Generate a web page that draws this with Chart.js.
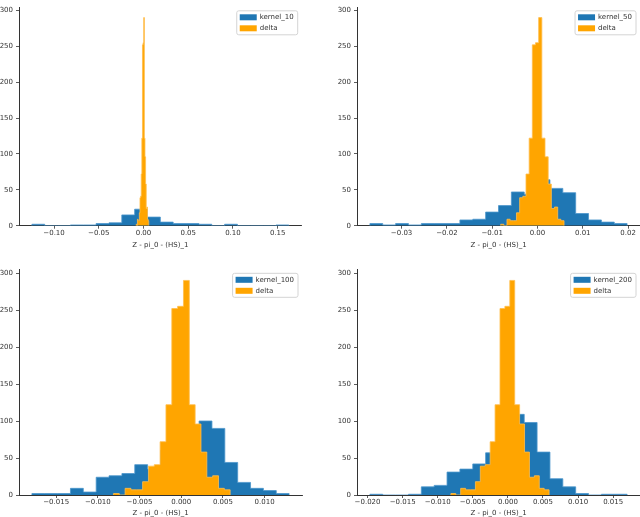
<!DOCTYPE html>
<html>
<head>
<meta charset="utf-8">
<script src="https://cdn.jsdelivr.net/npm/chart.js@4.4.1/dist/chart.umd.min.js"></script>
<style>
  html, body { margin: 0; padding: 0; background: #fff; }
  #fig { position: relative; width: 640px; height: 517px; overflow: hidden; }
  #fig canvas { position: absolute; }
</style>
</head>
<body>
<div id="fig">
  <canvas id="k10" width="320" height="258" style="left:0;top:0"></canvas>
  <canvas id="k50" width="320" height="258" style="left:320px;top:0"></canvas>
  <canvas id="k100" width="320" height="259" style="left:0;top:258px"></canvas>
  <canvas id="k200" width="320" height="259" style="left:320px;top:258px"></canvas>
</div>
<script>
// histogram data: each series is a first bin edge,
// a bin width and 20 counts
const deltaStart = -0.00813;
const deltaWidth = 0.0007;
const deltaCounts = [2, 0, 9, 7, 7, 18, 39, 41, 72, 122, 252, 255, 290, 122, 96, 58, 24, 26, 9, 7];

const k10Start = -0.1248;
const k10Width = 0.014365;
const k10Counts = [2, 0, 0, 1, 1, 3, 4, 15, 23, 12, 5, 3, 3, 2, 0, 2, 0, 0, 0, 1];

const k50Start = -0.0370;
const k50Width = 0.00284;
const k50Counts = [3, 1, 3, 1, 3, 3, 3, 8, 9, 19, 28, 47, 44, 64, 52, 46, 17, 8, 5, 3];

const k100Start = -0.01791;
const k100Width = 0.0015425;
const k100Counts = [2, 2, 2, 9, 4, 24, 26, 29, 41, 35, 60, 80, 90, 100, 90, 44, 17, 9, 6, 2];

const k200Start = -0.01967;
const k200Width = 0.001833;
const k200Counts = [1, 0, 0, 1, 11, 13, 31, 35, 42, 57, 85, 109, 98, 58, 22, 11, 2, 0, 1, 1];

// tick labels
const yTicks = [0, 50, 100, 150, 200, 250, 300];
const k10Ticks = [-0.10, -0.05, 0, 0.05, 0.10, 0.15];
const k50Ticks = [-0.03, -0.02, -0.01, 0, 0.01, 0.02];
const k100Ticks = [-0.015, -0.010, -0.005, 0, 0.005, 0.010];
const k200Ticks = [-0.020, -0.015, -0.010, -0.005, 0, 0.005, 0.010, 0.015];
const xTitle = 'Z - pi_0 - (HS)_1';

const blue = '#1f77b4';
const orange = '#ffa500';
const axisColor = '#333';

Chart.defaults.font.family = '"DejaVu Sans", sans-serif';
Chart.defaults.font.size = 7;
Chart.defaults.color = axisColor;

// stepped outline of a histogram, left edges carry the count of their bin
function histLine(start, width, counts) {
  const pts = [{ x: start, y: 0 }];
  counts.forEach((c, i) => pts.push({ x: start + i * width, y: c }));
  pts.push({ x: start + counts.length * width, y: 0 });
  return pts;
}

function fmt(v, decimals) {
  const s = Math.abs(v).toFixed(decimals);
  return v < -1e-12 ? '\u2212' + s : s;
}

// matplotlib style legend in the upper right corner of the plot area
const cornerLegend = {
  id: 'cornerLegend',
  afterDatasetsDraw(chart) {
    const ctx = chart.ctx;
    const area = chart.chartArea;
    const items = chart.data.datasets.map(d => ({ text: d.label, color: d.backgroundColor }));
    ctx.save();
    ctx.font = '7px "DejaVu Sans", sans-serif';
    const textW = Math.max(...items.map(it => ctx.measureText(it.text).width));
    const w = 3 + 17 + 3 + textW + 4;
    const h = 24;
    const right = area.right - 4;
    const top = area.top + 3.6;
    const left = right - w;
    ctx.beginPath();
    ctx.roundRect(left, top, w, h, 2);
    ctx.fillStyle = 'rgba(255,255,255,0.8)';
    ctx.fill();
    ctx.strokeStyle = '#d4d4d4';
    ctx.lineWidth = 1;
    ctx.stroke();
    items.forEach((it, i) => {
      const cy = top + 6.5 + i * 11;
      ctx.fillStyle = it.color;
      ctx.fillRect(left + 3, cy - 3, 17, 6);
      ctx.fillStyle = axisColor;
      ctx.textBaseline = 'middle';
      ctx.textAlign = 'left';
      ctx.fillText(it.text, left + 23, cy);
    });
    ctx.restore();
  }
};

function makePanel(id, label, start, width, counts, xTicks, decimals, box) {
  const lo = start;
  const hi = start + counts.length * width;
  const pad = (hi - lo) * 0.05;
  const tickGrid = { display: true, drawOnChartArea: false, drawTicks: true, tickLength: 3, color: axisColor, lineWidth: 0.8 };
  const border = { display: true, color: axisColor, width: 1 };
  return new Chart(document.getElementById(id), {
    type: 'line',
    data: {
      datasets: [
        {
          label: label,
          data: histLine(start, width, counts),
          order: 2,
          stepped: true,
          fill: 'origin',
          backgroundColor: blue,
          borderColor: '#4b95cc',
          borderWidth: 0.8,
          pointRadius: 0
        },
        {
          label: 'delta',
          data: histLine(deltaStart, deltaWidth, deltaCounts),
          order: 1,
          stepped: true,
          fill: 'origin',
          backgroundColor: orange,
          borderColor: '#ffbe4d',
          borderWidth: 0.8,
          pointRadius: 0
        }
      ]
    },
    options: {
      responsive: false,
      animation: false,
      events: [],
      layout: { padding: { top: box.top, right: box.right, left: 0, bottom: 0 } },
      plugins: { legend: { display: false }, tooltip: { enabled: false } },
      scales: {
        x: {
          type: 'linear',
          min: lo - pad,
          max: hi + pad,
          afterBuildTicks: s => { s.ticks = xTicks.map(v => ({ value: v })); },
          afterFit: s => { s.height = box.xHeight; },
          ticks: { callback: v => fmt(v, decimals), padding: 0, maxRotation: 0, autoSkip: false },
          grid: tickGrid,
          border: border,
          title: { display: true, text: xTitle, padding: { top: 0, bottom: box.titlePad } }
        },
        y: {
          min: 0,
          max: 304.5,
          afterBuildTicks: s => { s.ticks = yTicks.map(v => ({ value: v })); },
          afterFit: s => { s.width = box.yWidth; },
          ticks: { callback: v => String(v), padding: 3 },
          grid: tickGrid,
          border: border
        }
      }
    },
    plugins: [cornerLegend]
  });
}

makePanel('k10', 'kernel_10', k10Start, k10Width, k10Counts, k10Ticks, 2,
  { top: 0.4, right: 18.3, yWidth: 19, xHeight: 32.3, titlePad: 8.8 });
makePanel('k50', 'kernel_50', k50Start, k50Width, k50Counts, k50Ticks, 2,
  { top: 0.4, right: 0, yWidth: 37, xHeight: 32.3, titlePad: 8.8 });
makePanel('k100', 'kernel_100', k100Start, k100Width, k100Counts, k100Ticks, 3,
  { top: 11.7, right: 18, yWidth: 19, xHeight: 22, titlePad: 0 });
makePanel('k200', 'kernel_200', k200Start, k200Width, k200Counts, k200Ticks, 3,
  { top: 11.7, right: 0, yWidth: 37, xHeight: 22, titlePad: 0 });
</script>
</body>
</html>
